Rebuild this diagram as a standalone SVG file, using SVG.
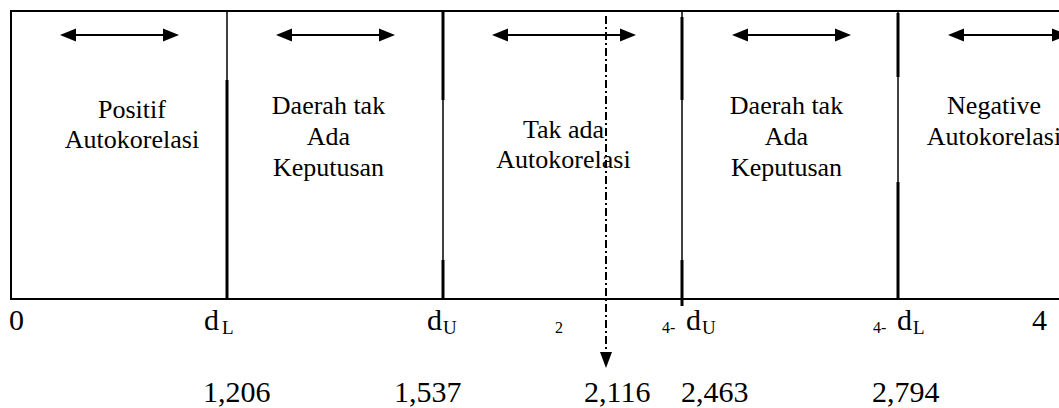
<svg xmlns="http://www.w3.org/2000/svg" width="1059" height="408" viewBox="0 0 1059 408">
  <style>
    .frame { fill: none; stroke: #000; stroke-width: 2; }
    .div-thin { stroke: #000; stroke-width: 1.5; }
    .div-thick { stroke: #000; stroke-width: 3; }
    .span { stroke: #000; stroke-width: 2; marker-start: url(#head); marker-end: url(#head); }
    .stat { stroke: #000; stroke-width: 2; stroke-dasharray: 8 3 2 3; marker-end: url(#headDown); }
    text { font-family: "Liberation Serif", "Times New Roman", serif; fill: #000; }
    .lbl { font-size: 26px; text-anchor: middle; }
    .axis { font-size: 30px; }
    .sub { font-size: 19px; }
    .small { font-size: 16px; }
    .val { font-size: 30px; }
  </style>
  <defs>
    <marker id="head" markerUnits="userSpaceOnUse" markerWidth="16" markerHeight="13" refX="0" refY="6.5" orient="auto-start-reverse" overflow="visible">
      <path d="M0,0 L16,6.5 L0,13 z" fill="#000"/>
    </marker>
    <marker id="headDown" markerUnits="userSpaceOnUse" markerWidth="16" markerHeight="12" refX="0" refY="6" orient="auto" overflow="visible">
      <path d="M0,0 L16,6 L0,12 z" fill="#000"/>
    </marker>
  </defs>

  <rect width="1059" height="408" fill="#fff"/>

  <!-- outer band: left edge, top and bottom lines run off the right side -->
  <g id="band">
    <path class="frame" d="M1070,11 H11 V299 H1070"/>
  </g>

  <!-- region dividers -->
  <g id="dividers">
    <line class="div-thin" x1="227" y1="11" x2="227" y2="299"/>
    <line class="div-thick" x1="227" y1="80" x2="227" y2="299"/>
    <line class="div-thin" x1="443" y1="11" x2="443" y2="299"/>
    <line class="div-thick" x1="443" y1="11" x2="443" y2="100"/>
    <line class="div-thick" x1="443" y1="260" x2="443" y2="299"/>
    <line class="div-thin" x1="682" y1="11" x2="682" y2="306"/>
    <line class="div-thick" x1="682" y1="17" x2="682" y2="100"/>
    <line class="div-thick" x1="682" y1="260" x2="682" y2="306"/>
    <line class="div-thin" x1="898" y1="11" x2="898" y2="299"/>
    <line class="div-thick" x1="898" y1="13" x2="898" y2="77"/>
    <line class="div-thick" x1="898" y1="182" x2="898" y2="299"/>
  </g>

  <!-- range arrows and the test statistic marker -->
  <g id="connectors">
    <line class="span" x1="76" y1="35" x2="163" y2="35"/>
    <line class="span" x1="292" y1="35" x2="379" y2="35"/>
    <line class="span" x1="508" y1="35" x2="620" y2="35"/>
    <line class="span" x1="748" y1="35" x2="835" y2="35"/>
    <line class="span" x1="964" y1="35" x2="1052" y2="35"/>
    <line class="stat" x1="606" y1="16" x2="606" y2="352"/>
  </g>

  <g id="region-positive">
    <text class="lbl" x="132" y="118">Positif</text>
    <text class="lbl" x="132" y="148">Autokorelasi</text>
  </g>
  <g id="region-inconclusive-low">
    <text class="lbl" x="328.5" y="114">Daerah tak</text>
    <text class="lbl" x="328.5" y="145">Ada</text>
    <text class="lbl" x="328.5" y="176">Keputusan</text>
  </g>
  <g id="region-none">
    <text class="lbl" x="563.5" y="138">Tak ada</text>
    <text class="lbl" x="563.5" y="168">Autokorelasi</text>
  </g>
  <g id="region-inconclusive-high">
    <text class="lbl" x="786.5" y="114">Daerah tak</text>
    <text class="lbl" x="786.5" y="145">Ada</text>
    <text class="lbl" x="786.5" y="176">Keputusan</text>
  </g>
  <g id="region-negative">
    <text class="lbl" x="994" y="114">Negative</text>
    <text class="lbl" x="994" y="145">Autokorelasi</text>
  </g>

  <!-- axis marks -->
  <g id="axis-labels">
    <text class="axis" x="9" y="330">0</text>
    <text class="axis" x="204" y="330">d</text><text class="sub" x="222" y="334">L</text>
    <text class="axis" x="427" y="330">d</text><text class="sub" x="443" y="334">U</text>
    <text class="small" x="555" y="333">2</text>
    <text class="small" x="662" y="333">4-</text><text class="axis" x="686" y="330">d</text><text class="sub" x="702" y="334">U</text>
    <text class="small" x="873" y="333">4-</text><text class="axis" x="897" y="330">d</text><text class="sub" x="913" y="334">L</text>
    <text class="axis" x="1032" y="330">4</text>
  </g>

  <!-- critical values -->
  <g id="values">
    <text class="val" x="203" y="402">1,206</text>
    <text class="val" x="394" y="402">1,537</text>
    <text class="val" x="584" y="402">2,116</text>
    <text class="val" x="681" y="402">2,463</text>
    <text class="val" x="872" y="402">2,794</text>
  </g>
</svg>
